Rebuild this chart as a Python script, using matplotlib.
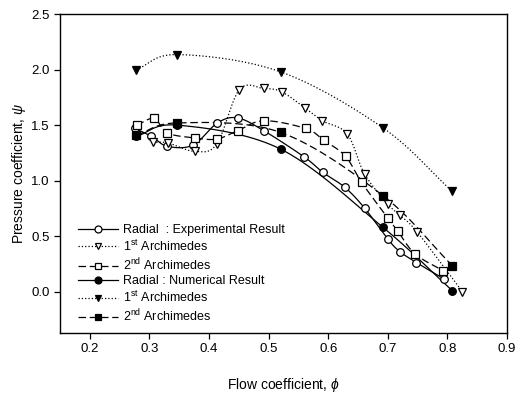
import numpy as np
import matplotlib
matplotlib.use("Agg")
import matplotlib.pyplot as plt

plt.rcParams['font.family'] = ['Liberation Sans', 'DejaVu Sans']
plt.rcParams['mathtext.fontset'] = 'custom'
plt.rcParams['mathtext.rm'] = 'Liberation Sans'
plt.rcParams['mathtext.it'] = 'Liberation Sans:italic'

# Experimental results
exp_radial_x = [0.276, 0.303, 0.330, 0.373, 0.414, 0.448, 0.492, 0.560, 0.591, 0.628, 0.661, 0.700, 0.720, 0.748, 0.795]
exp_radial_y = [1.47, 1.40, 1.31, 1.32, 1.52, 1.565, 1.45, 1.213, 1.075, 0.94, 0.754, 0.475, 0.363, 0.264, 0.114]

exp_arch1_x = [0.306, 0.331, 0.376, 0.413, 0.451, 0.492, 0.522, 0.561, 0.590, 0.632, 0.661, 0.700, 0.720, 0.749, 0.825]
exp_arch1_y = [1.345, 1.34, 1.264, 1.33, 1.82, 1.83, 1.80, 1.655, 1.54, 1.42, 1.06, 0.79, 0.69, 0.54, 0.003]

exp_arch2_x = [0.279, 0.308, 0.330, 0.376, 0.413, 0.448, 0.492, 0.562, 0.593, 0.629, 0.656, 0.700, 0.717, 0.746, 0.793]
exp_arch2_y = [1.50, 1.56, 1.43, 1.385, 1.375, 1.45, 1.54, 1.47, 1.363, 1.22, 0.985, 0.664, 0.544, 0.34, 0.19]

# Numerical results
num_x = [0.278, 0.347, 0.520, 0.692, 0.808]
num_radial_y = [1.40, 1.50, 1.285, 0.58, 0.012]
num_arch1_y = [2.00, 2.135, 1.98, 1.475, 0.904]
num_arch2_y = [1.41, 1.52, 1.435, 0.865, 0.237]

labels = ["Radial  : Experimental Result", r"1$^{\mathrm{st}}$ Archimedes", r"2$^{\mathrm{nd}}$ Archimedes",
          "Radial : Numerical Result", r"1$^{\mathrm{st}}$ Archimedes", r"2$^{\mathrm{nd}}$ Archimedes"]


def smooth(x, y, n=20):
    x = np.asarray(x, float); y = np.asarray(y, float)
    px = np.concatenate([[2 * x[0] - x[1]], x, [2 * x[-1] - x[-2]]])
    py = np.concatenate([[2 * y[0] - y[1]], y, [2 * y[-1] - y[-2]]])
    xs, ys = [], []
    t = np.linspace(0, 1, n, endpoint=False)
    for i in range(1, len(px) - 2):
        for arr, out in ((px, xs), (py, ys)):
            p0, p1, p2, p3 = arr[i - 1], arr[i], arr[i + 1], arr[i + 2]
            out.extend(0.5 * ((2 * p1) + (-p0 + p2) * t + (2 * p0 - 5 * p1 + 4 * p2 - p3) * t ** 2
                              + (-p0 + 3 * p1 - 3 * p2 + p3) * t ** 3))
    xs.append(x[-1]); ys.append(y[-1])
    return np.array(xs), np.array(ys)


fig = plt.figure(figsize=(5.16, 3.97), dpi=100)
ax = fig.add_axes([0.1163, 0.1612, 0.8663, 0.8035])

series = [
    (exp_radial_x, exp_radial_y, 'o', 'white', '-'),
    (exp_arch1_x, exp_arch1_y, 'v', 'white', ':'),
    (exp_arch2_x, exp_arch2_y, 's', 'white', (0, (6, 3))),
    (num_x, num_radial_y, 'o', 'black', '-'),
    (num_x, num_arch1_y, 'v', 'black', ':'),
    (num_x, num_arch2_y, 's', 'black', (0, (6, 3))),
]

handles = []
for (x, y, m, fc, ls), lab in zip(series, labels):
    sx, sy = smooth(x, y)
    ax.plot(sx, sy, color='black', linestyle=ls, linewidth=0.9, zorder=2)
    ax.plot(x, y, linestyle='none', marker=m, markersize=6 if m != 'o' else 5.5,
            markerfacecolor=fc, markeredgecolor='black', markeredgewidth=0.9, zorder=3)
    h, = ax.plot([], [], color='black', linestyle=ls, linewidth=0.9, marker=m,
                 markersize=5, markerfacecolor=fc, markeredgecolor='black', markeredgewidth=0.9)
    handles.append(h)

ax.set_xlim(0.15, 0.9)
ax.set_ylim(-0.37, 2.5)
ax.set_xticks([0.2, 0.3, 0.4, 0.5, 0.6, 0.7, 0.8, 0.9])
ax.set_yticks([0.0, 0.5, 1.0, 1.5, 2.0, 2.5])
ax.xaxis.set_major_formatter(matplotlib.ticker.FormatStrFormatter('%.1f'))
ax.yaxis.set_major_formatter(matplotlib.ticker.FormatStrFormatter('%.1f'))
ax.tick_params(direction='out', length=4, width=0.9, labelsize=9.5, colors='black')
for s in ax.spines.values():
    s.set_linewidth(1.0)

ax.set_xlabel(r"Flow coefficient, $\phi$", fontsize=10, labelpad=15)
ax.set_ylabel(r"Pressure coefficient, $\psi$", fontsize=10, labelpad=2)

leg = ax.legend(handles, labels, loc='lower left', bbox_to_anchor=(0.02, 0.0),
                frameon=False, fontsize=9, handlelength=3.2, handletextpad=0.4,
                labelspacing=0.2, borderpad=0.2)

fig.savefig("out.png", dpi=100)
